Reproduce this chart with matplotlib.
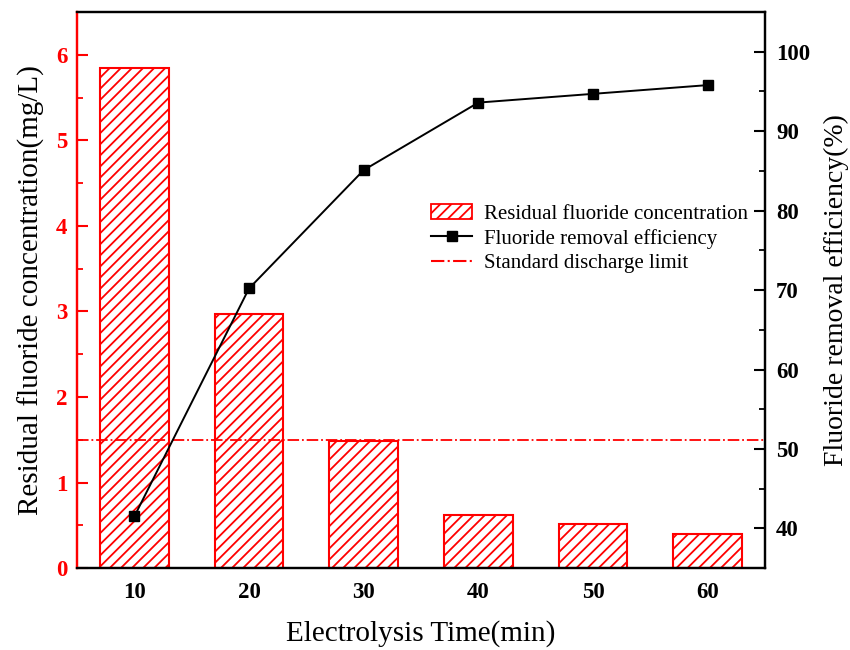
import matplotlib.pyplot as plt
import numpy as np
from matplotlib.lines import Line2D
from matplotlib.patches import Patch

plt.rcParams['font.family'] = ['Liberation Serif', 'DejaVu Serif']
plt.rcParams['hatch.linewidth'] = 1.3

# datos
tiempo = [10, 20, 30, 40, 50, 60]
fluoruro = [5.85, 2.97, 1.48, 0.62, 0.51, 0.40]
eficiencia = [41.5, 70.2, 85.1, 93.6, 94.7, 95.8]
limite = 1.5

fig = plt.figure(figsize=(8.5, 6.5), dpi=100)
ax = fig.add_axes([0.0906, 0.126, 0.8094, 0.8555])
ax2 = ax.twinx()

# barras con rayado
ax.bar(tiempo, fluoruro, width=6, facecolor='white', edgecolor='red',
       hatch='///', linewidth=1.5, zorder=2)

# límite de descarga
ax.axhline(limite, color='red', linestyle='-.', linewidth=1.3, zorder=3)

# eficiencia
ax2.plot(tiempo, eficiencia, color='black', marker='s', markersize=7.5,
         linewidth=1.4, zorder=4)

ax.set_xlim(5, 65)
ax.set_ylim(0, 6.5)
ax2.set_ylim(35, 105)

ax.set_xticks(tiempo)
ax.set_xticklabels([str(t) for t in tiempo], fontweight='bold', fontsize=16.5)
ax.tick_params(axis='x', length=0, pad=10)

ax.set_yticks(np.arange(0, 7, 1))
ax.set_yticks(np.arange(0.5, 6.5, 1), minor=True)
ax.tick_params(axis='y', which='major', colors='red', direction='in',
               length=8, width=1.5, labelsize=16.5, pad=7)
ax.tick_params(axis='y', which='minor', colors='red', direction='in',
               length=4, width=1.3)
for lab in ax.get_yticklabels():
    lab.set_fontweight('bold')

ax2.set_yticks(np.arange(40, 101, 10))
ax2.set_yticks(np.arange(45, 105, 10), minor=True)
ax2.tick_params(axis='y', which='major', colors='black', direction='in',
                length=8, width=1.5, labelsize=16.5, pad=8)
ax2.tick_params(axis='y', which='minor', direction='in', length=4, width=1.3)
for lab in ax2.get_yticklabels():
    lab.set_fontweight('bold')

for a in (ax, ax2):
    for s in a.spines.values():
        s.set_linewidth(1.6)
ax2.spines['left'].set_color('red')
ax.spines['left'].set_color('red')

ax.set_xlabel('Electrolysis Time(min)', fontsize=21, labelpad=12)
ax.set_ylabel('Residual fluoride concentration(mg/L)', fontsize=21, labelpad=8)
ax2.set_ylabel('Fluoride removal efficiency(%)', fontsize=20, labelpad=10)

handles = [
    Patch(facecolor='white', edgecolor='red', hatch='///', linewidth=1.3,
          label='Residual fluoride concentration'),
    Line2D([], [], color='black', marker='s', markersize=7.5,
           label='Fluoride removal efficiency'),
    Line2D([], [], color='red', linestyle='-.', label='Standard discharge limit'),
]
fig.legend(handles=handles, loc='upper left', bbox_to_anchor=(0.497, 0.699),
           frameon=False, fontsize=15, handlelength=2.0, labelspacing=0.25,
           handletextpad=0.55, borderaxespad=0)

plt.savefig('out.png', dpi=100)
